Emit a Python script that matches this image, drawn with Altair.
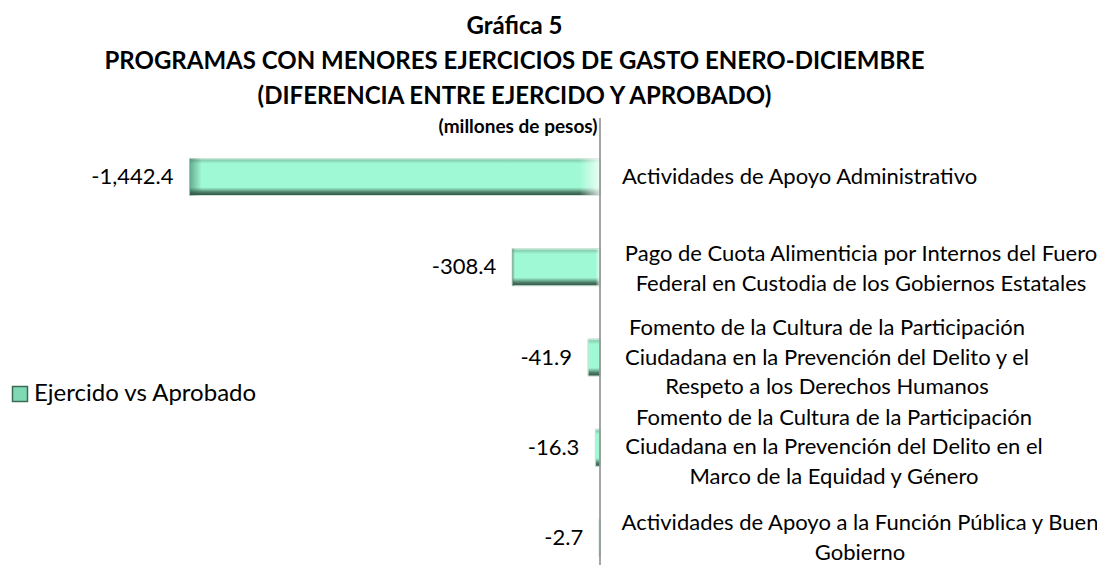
import altair as alt
import pandas as pd

# ---------------- data ----------------
title_lines = [
    "Gráfica 5",
    "PROGRAMAS CON MENORES  EJERCICIOS DE GASTO ENERO-DICIEMBRE",
    "(DIFERENCIA ENTRE EJERCIDO Y APROBADO)",
]
subtitle = "(millones de pesos)"
series_name = "Ejercido vs Aprobado"

categories = [
    "Actividades de Apoyo Administrativo",
    "Pago de Cuota Alimenticia por Internos del Fuero Federal en Custodia de los Gobiernos Estatales",
    "Fomento de la Cultura de la Participación Ciudadana en la Prevención del Delito y el Respeto a los Derechos Humanos",
    "Fomento de la Cultura de la Participación Ciudadana en la Prevención del Delito en el Marco de la Equidad y Género",
    "Actividades de Apoyo a la Función Pública y Buen Gobierno",
]
category_labels = [
    "Actividades de Apoyo Administrativo",
    "Pago de Cuota Alimenticia por Internos del Fuero\nFederal en Custodia de los Gobiernos Estatales",
    "Fomento de la Cultura de la Participación\nCiudadana en la Prevención del Delito y el\nRespeto a los Derechos Humanos",
    "Fomento de la Cultura de la Participación\nCiudadana en la Prevención del Delito en el\nMarco de la Equidad y Género",
    "Actividades de Apoyo a la Función Pública y Buen\nGobierno",
]
values = [-1442.4, -308.4, -41.9, -16.3, -2.7]
value_labels = ["-1,442.4", "-308.4", "-41.9", "-16.3", "-2.7"]

df = pd.DataFrame({
    "programa": categories,
    "etiqueta": category_labels,
    "valor": values,
    "texto": value_labels,
    "serie": [series_name] * len(categories),
})

# ---------------- style ----------------
FONT = "Lato"
W, H = 1089, 450
LINE_H = 29.5

x_scale = alt.Scale(domain=[-2080.1, 1746.3], nice=False)
y_scale = alt.Scale(domain=categories, paddingInner=0.59, paddingOuter=0.288, align=0.933)

base = alt.Chart(df)

x_enc = alt.X("valor:Q", scale=x_scale, axis=None)
y_enc = alt.Y("programa:N", scale=y_scale, axis=None, sort=categories)

bars_legend = base.mark_bar(stroke="#cfe3da", strokeWidth=1).encode(
    x=x_enc,
    y=y_enc,
    color=alt.Color(
        "serie:N",
        scale=alt.Scale(range=["#7fd9b3"]),
        legend=alt.Legend(
            title=None, orient="none", legendX=0, legendY=272, padding=0,
            symbolType="square", symbolSize=225,
            symbolStrokeColor="#3e6b58", symbolStrokeWidth=1.5,
            labelFont=FONT, labelFontSize=24, labelColor="black",
            labelOffset=2, labelLimit=400,
        ),
    ),
)

vgrad = alt.Gradient(
    gradient="linear", x1=0, x2=0, y1=0, y2=1,
    stops=[
        alt.GradientStop(color="#bfe9d6", offset=0),
        alt.GradientStop(color="#86d2b1", offset=0.05),
        alt.GradientStop(color="#a0f9d5", offset=0.14),
        alt.GradientStop(color="#a0f9d5", offset=0.78),
        alt.GradientStop(color="#7cc3a4", offset=0.84),
        alt.GradientStop(color="#4d7d69", offset=0.91),
        alt.GradientStop(color="#2f4f42", offset=1),
    ],
)
bars_main = base.mark_bar(fill=vgrad, stroke="#cfe3da", strokeWidth=1).encode(x=x_enc, y=y_enc)

hgrad = alt.Gradient(
    gradient="linear", x1=0, x2=1, y1=0, y2=0,
    stops=[
        alt.GradientStop(color="rgba(40,90,70,0.5)", offset=0),
        alt.GradientStop(color="rgba(40,90,70,0.0)", offset=0.03),
        alt.GradientStop(color="rgba(255,255,255,0.0)", offset=0.95),
        alt.GradientStop(color="rgba(255,255,255,0.8)", offset=1),
    ],
)
bars_shade = base.mark_bar(fill=hgrad).encode(x=x_enc, y=y_enc)

value_text = base.mark_text(
    align="right", baseline="middle", dx=-16, font=FONT, fontSize=22, color="black"
).encode(x=x_enc, y=y_enc, text="texto:N")

label_dx = [22, 261, 227, 234, 260]
label_dy = [0, -13, -29.5, -30, -15]
label_align = ["left", "center", "center", "center", "center"]
label_layers = []
for cat, dx, dy, al in zip(categories, label_dx, label_dy, label_align):
    label_layers.append(
        base.transform_filter(alt.datum.programa == cat).mark_text(
            align=al, baseline="middle", dx=dx, dy=dy, lineBreak="\n", lineHeight=LINE_H,
            font=FONT, fontSize=22, color="black",
        ).encode(x=alt.datum(0), y=y_enc, text="etiqueta:N")
    )

axis_rule = alt.Chart(pd.DataFrame({"cero": [0]})).mark_rule(
    color="#878787", strokeWidth=1.5
).encode(x=alt.X("cero:Q", scale=x_scale, axis=None), y=alt.value(8), y2=alt.value(H + 5))

sub_text = alt.Chart(pd.DataFrame({"t": [subtitle]})).mark_text(
    font=FONT, fontSize=19, fontWeight="bold", align="center", baseline="middle", color="black"
).encode(x=alt.value(510), y=alt.value(17), text="t:N")

chart = alt.layer(
    bars_legend, bars_main, bars_shade, axis_rule, value_text, sub_text, *label_layers
).properties(
    width=W,
    height=H,
    background="white",
    title=alt.Title(
        text=title_lines, font=FONT, fontSize=24, fontWeight="bold", color="black",
        lineHeight=35, anchor="middle", dx=-38, dy=26, offset=3, baseline="bottom",
    ),
    padding={"left": 0, "top": 102, "right": 0, "bottom": 5},
    autosize=alt.AutoSizeParams(type="none"),
).configure_view(stroke=None)

chart.save("out.html", embed_options={"renderer": "svg", "actions": False})
